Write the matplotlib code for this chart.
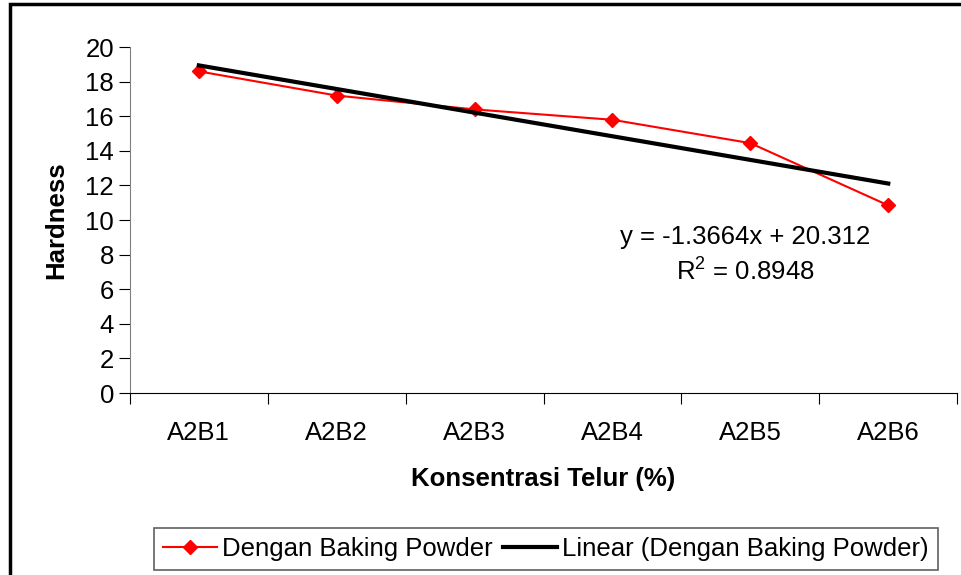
import numpy as np
import matplotlib.pyplot as plt
from matplotlib.patches import Rectangle

plt.rcParams['font.family'] = ['Liberation Sans', 'DejaVu Sans']

# data
categories = ['A2B1', 'A2B2', 'A2B3', 'A2B4', 'A2B5', 'A2B6']
hardness = [18.6, 17.2, 16.4, 15.8, 14.45, 10.85]
slope = -1.3664
intercept = 20.312
r2 = 0.8948

x = np.arange(len(categories))
trend = slope * (x + 1) + intercept

fs = 18.5

fig = plt.figure(figsize=(9.62, 5.75), dpi=100)
ax = fig.add_axes([0.135, 0.3165, 0.86, 0.6015])

ax.plot(x, hardness, color='red', lw=1.5, marker='D', ms=7,
        label='Dengan Baking Powder')
ax.plot(x, trend, color='black', lw=3, label='Linear (Dengan Baking Powder)')

ax.set_xlim(-0.5, len(categories) - 0.5)
ax.set_ylim(0, 20)
ax.set_yticks(range(0, 21, 2))
ax.set_xticks(np.arange(-0.5, len(categories)), labels=[])
ax.set_xticks(x, labels=categories, minor=True)
ax.tick_params(axis='x', which='minor', length=0, pad=20, labelsize=fs)
ax.tick_params(axis='x', which='major', length=8, direction='out')
ax.tick_params(axis='y', length=8, labelsize=fs)

for s in ['top', 'right']:
    ax.spines[s].set_visible(False)
ax.spines['left'].set_color('#808080')

ax.set_ylabel('Hardness', fontsize=fs, fontweight='bold', labelpad=12)
ax.set_xlabel('Konsentrasi Telur (%)', fontsize=fs, fontweight='bold', labelpad=16)

ax.text(3.96, 9.0, f'y = {slope}x + {intercept}', fontsize=fs, ha='center', va='center')
ax.text(3.96, 7.0, '$\\mathregular{R^2}$ = ' + f'{r2}', fontsize=fs, ha='center', va='center')

leg = fig.legend(loc='lower center', bbox_to_anchor=(0.5676, 0.008),
                 ncol=2, fontsize=fs, fancybox=False,
                 edgecolor='#606060', framealpha=1, handlelength=2.1,
                 handletextpad=0.2, columnspacing=0.4, borderpad=0.35,
                 borderaxespad=0)
leg.get_frame().set_linewidth(1.2)

fig.patches.append(Rectangle((10 / 962, -0.1), 1.2, 1 - 4 / 575 + 0.1,
                             transform=fig.transFigure, fill=False,
                             lw=2.5, edgecolor='black'))

fig.savefig('out.png', dpi=100)
